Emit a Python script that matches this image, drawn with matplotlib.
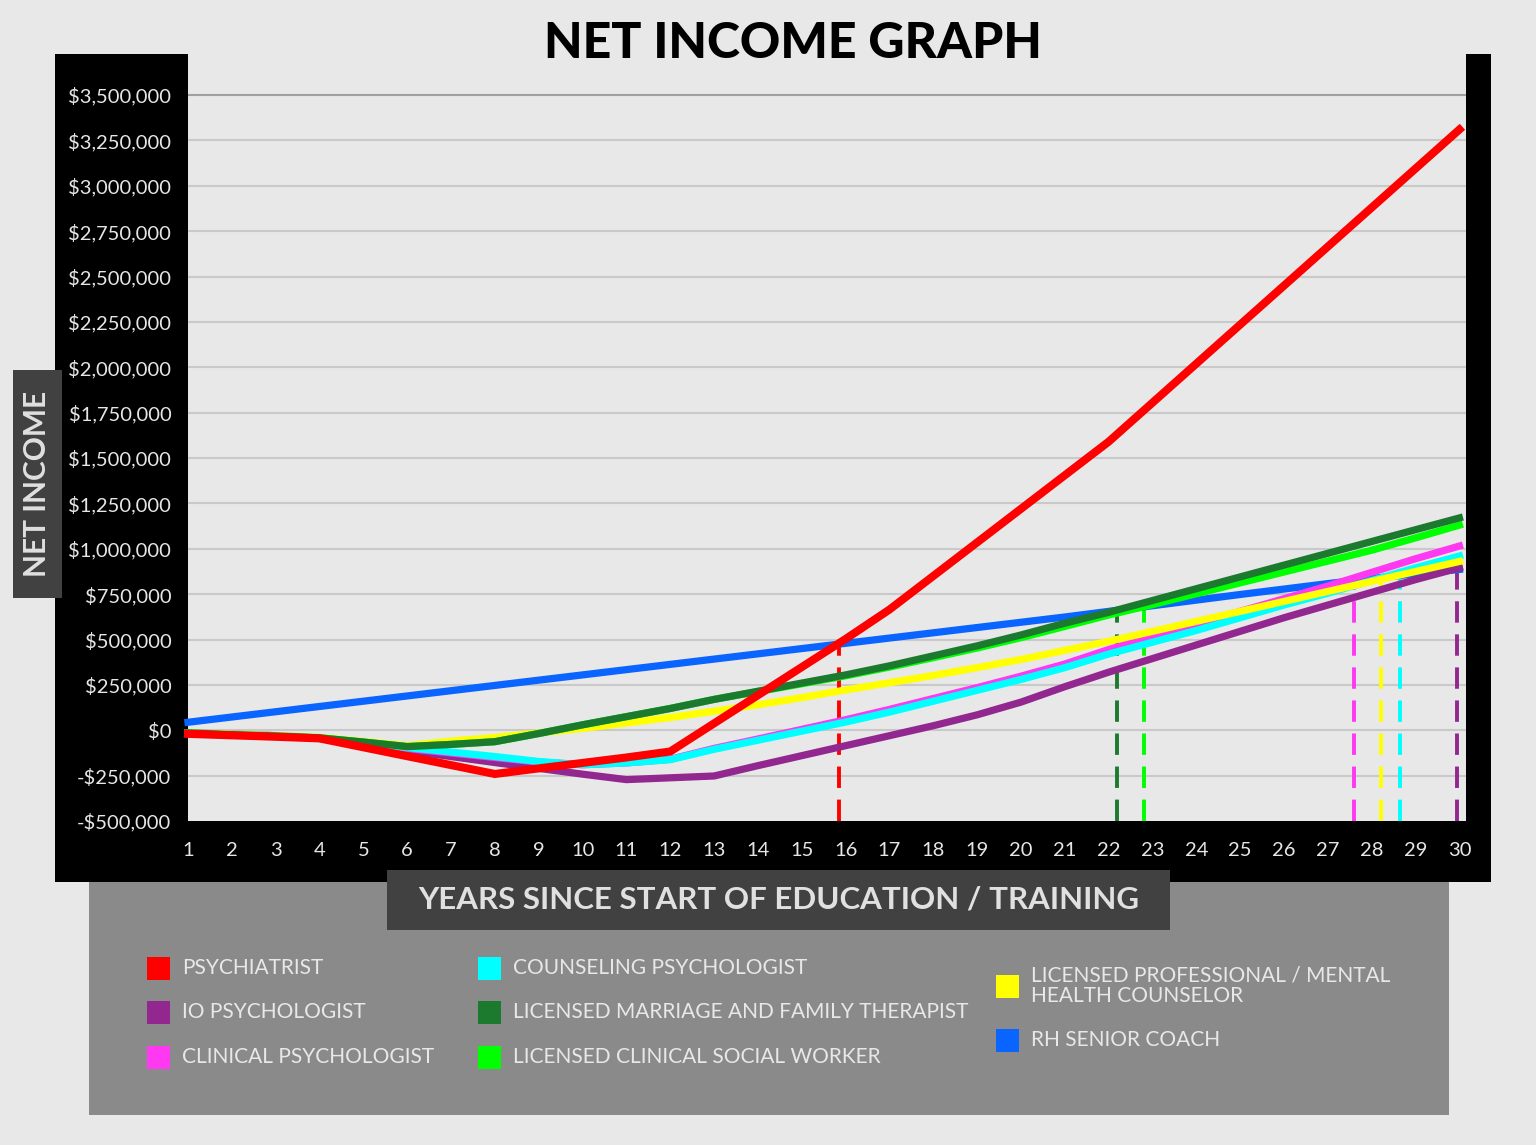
import matplotlib
matplotlib.use("Agg")
import matplotlib.pyplot as plt
import numpy as np
from matplotlib.patches import Rectangle
from matplotlib.ticker import FuncFormatter

plt.rcParams['font.family'] = ['Lato', 'DejaVu Sans']

# years since start of education / training
years = list(range(1, 31))

# net income per year, in dollars
psychiatrist = [-20e3, -28e3, -36e3, -45e3, -94e3, -143e3, -192e3, -241e3, -210e3, -180e3,
                -150e3, -117e3, 38e3, 193e3, 348e3, 503e3, 665e3, 850e3, 1035e3, 1220e3,
                1405e3, 1590e3, 1805e3, 2020e3, 2235e3, 2450e3, 2665e3, 2880e3, 3095e3, 3310e3]
io_psych = [-15e3, -22e3, -30e3, -45e3, -80e3, -112e3, -145e3, -178e3, -210e3, -242e3,
            -272e3, -262e3, -252e3, -195e3, -140e3, -85e3, -30e3, 25e3, 85e3, 155e3,
            240e3, 320e3, 395e3, 470e3, 545e3, 620e3, 690e3, 760e3, 830e3, 895e3]
clinical_psych = [-15e3, -22e3, -30e3, -42e3, -72e3, -100e3, -125e3, -150e3, -175e3, -190e3,
                  -180e3, -160e3, -100e3, -48e3, 5e3, 58e3, 115e3, 175e3, 235e3, 298e3,
                  365e3, 445e3, 515e3, 585e3, 655e3, 725e3, 795e3, 870e3, 945e3, 1015e3]
counseling_psych = [-15e3, -22e3, -30e3, -40e3, -70e3, -95e3, -120e3, -145e3, -172e3, -190e3,
                    -180e3, -162e3, -105e3, -55e3, -5e3, 45e3, 100e3, 160e3, 220e3, 280e3,
                    345e3, 420e3, 485e3, 550e3, 620e3, 690e3, 755e3, 825e3, 895e3, 960e3]
lpc = [-15e3, -22e3, -30e3, -40e3, -62e3, -85e3, -60e3, -40e3, -15e3, 10e3,
       40e3, 70e3, 105e3, 140e3, 180e3, 222e3, 262e3, 302e3, 345e3, 390e3,
       440e3, 490e3, 545e3, 600e3, 655e3, 710e3, 765e3, 820e3, 875e3, 930e3]
lcsw = [-15e3, -25e3, -32e3, -42e3, -65e3, -90e3, -78e3, -63e3, -18e3, 30e3,
        75e3, 120e3, 170e3, 213e3, 256e3, 300e3, 348e3, 400e3, 453e3, 510e3,
        572e3, 635e3, 692e3, 752e3, 812e3, 872e3, 932e3, 992e3, 1060e3, 1130e3]
lmft = [-15e3, -25e3, -32e3, -42e3, -65e3, -90e3, -78e3, -63e3, -18e3, 30e3,
        75e3, 120e3, 170e3, 215e3, 260e3, 305e3, 355e3, 410e3, 465e3, 525e3,
        590e3, 650e3, 715e3, 780e3, 845e3, 910e3, 975e3, 1040e3, 1105e3, 1170e3]
rh_coach = [44e3, 73e3, 102e3, 131e3, 160e3, 189e3, 218e3, 247e3, 276e3, 305e3,
            334e3, 363e3, 392e3, 421e3, 450e3, 479e3, 508e3, 537e3, 566e3, 595e3,
            624e3, 655e3, 686e3, 717e3, 748e3, 778e3, 808e3, 836e3, 862e3, 886e3]

# year where each career catches up with the coach line
breakeven_names = ['psychiatrist', 'lmft', 'lcsw', 'clinical', 'lpc', 'counseling', 'io']
breakeven_years = [15.85, 22.2, 22.8, 27.6, 28.2, 28.65, 29.95]

colors = {
    'psychiatrist': '#ff0000',
    'io': '#92278f',
    'clinical': '#ff38f2',
    'counseling': '#00ffff',
    'lmft': '#1c7a2f',
    'lcsw': '#00ff00',
    'lpc': '#ffff00',
    'coach': '#0a64ff',
}

legend_cols = [
    [('psychiatrist', 'PSYCHIATRIST'), ('io', 'IO PSYCHOLOGIST'), ('clinical', 'CLINICAL PSYCHOLOGIST')],
    [('counseling', 'COUNSELING PSYCHOLOGIST'), ('lmft', 'LICENSED MARRIAGE AND FAMILY THERAPIST'),
     ('lcsw', 'LICENSED CLINICAL SOCIAL WORKER')],
    [('lpc', 'LICENSED PROFESSIONAL / MENTAL\nHEALTH COUNSELOR'), ('coach', 'RH SENIOR COACH')],
]

W, H = 1536, 1145
BG = '#e8e8e8'


def px_rect(fig, x0, y0, x1, y1, color, z=0):
    fig.add_artist(Rectangle((x0 / W, 1 - y1 / H), (x1 - x0) / W, (y1 - y0) / H,
                             transform=fig.transFigure, facecolor=color,
                             edgecolor='none', zorder=z))


fig = plt.figure(figsize=(W / 100, H / 100), dpi=100, facecolor=BG)

# black frame + grey legend panel
px_rect(fig, 89, 870, 1449, 1115, '#8a8a8a', z=0)
px_rect(fig, 55, 54, 188, 882, 'black', z=1)
px_rect(fig, 55, 818, 1491, 882, 'black', z=1)
px_rect(fig, 1466, 54, 1491, 882, 'black', z=1)

ax = fig.add_axes([188 / W, 1 - 821 / H, (1466 - 188) / W, (821 - 54) / H])
ax.set_facecolor(BG)
ax.set_zorder(2)
for s in ax.spines.values():
    s.set_visible(False)

ax.set_xlim(1, 30.15)
ax.set_ylim(-500e3, 3726e3)

yt = np.arange(-500e3, 3500001, 250e3)
ax.set_yticks(yt)
ax.yaxis.set_major_formatter(FuncFormatter(
    lambda v, p: ('-$' if v < 0 else '$') + f'{abs(int(round(v))):,}'))
ax.set_xticks(years)
ax.tick_params(axis='both', length=0, colors='#e6e6e6', labelsize=14.5)
ax.tick_params(axis='y', pad=12)
ax.tick_params(axis='x', pad=15)

for v in yt[1:]:
    ax.axhline(v, color='#a0a0a0' if v == 3500e3 else '#c9c9c9', lw=1.5, zorder=1)

# break-even dashes, from the bottom up to the coach line
for name, bx in zip(breakeven_names, breakeven_years):
    top = np.interp(bx, years, rh_coach)
    ax.plot([bx, bx], [-500e3, top], color=colors[name], lw=2.8,
            linestyle=(0, (5.5, 3)), zorder=2, solid_capstyle='butt')

series = [
    ('coach', rh_coach, 3),
    ('io', io_psych, 4),
    ('clinical', clinical_psych, 5),
    ('counseling', counseling_psych, 6),
    ('lpc', lpc, 7),
    ('lcsw', lcsw, 8),
    ('lmft', lmft, 9),
    ('psychiatrist', psychiatrist, 10),
]
for name, vals, z in series:
    ax.plot(years, vals, color=colors[name], lw=5.8 if name == 'psychiatrist' else 5.2,
            zorder=z, solid_joinstyle='miter', clip_on=False)

# title
fig.text(793 / W, 1 - 43 / H, 'NET INCOME GRAPH', ha='center', va='center',
         fontsize=36, fontweight=900, color='black')

# y label box
px_rect(fig, 13, 370, 62, 598, '#414141', z=3)
fig.text(37.5 / W, 1 - 484 / H, 'NET INCOME', rotation=90, ha='center', va='center',
         fontsize=21.5, fontweight='bold', color='#e0e0e0', zorder=4)

# x label box
px_rect(fig, 387, 870, 1170, 930, '#414141', z=3)
fig.text(779 / W, 1 - 899 / H, 'YEARS SINCE START OF EDUCATION / TRAINING',
         ha='center', va='center', fontsize=22.5, fontweight='bold', color='#e0e0e0', zorder=4)

# legend
col_x = [147, 478, 996]
rows_y = [[968, 1012, 1057], [968, 1012, 1057], [986, 1040]]
for cx, col, ys in zip(col_x, legend_cols, rows_y):
    for (key, label), yy in zip(col, ys):
        px_rect(fig, cx, yy - 11.5, cx + 23, yy + 11.5, colors[key], z=3)
        fig.text((cx + 35) / W, 1 - yy / H, label, ha='left', va='center',
                 fontsize=15, color='#e8e8e8', linespacing=1.05, zorder=4)

fig.savefig('out.png', dpi=100, facecolor=BG)
